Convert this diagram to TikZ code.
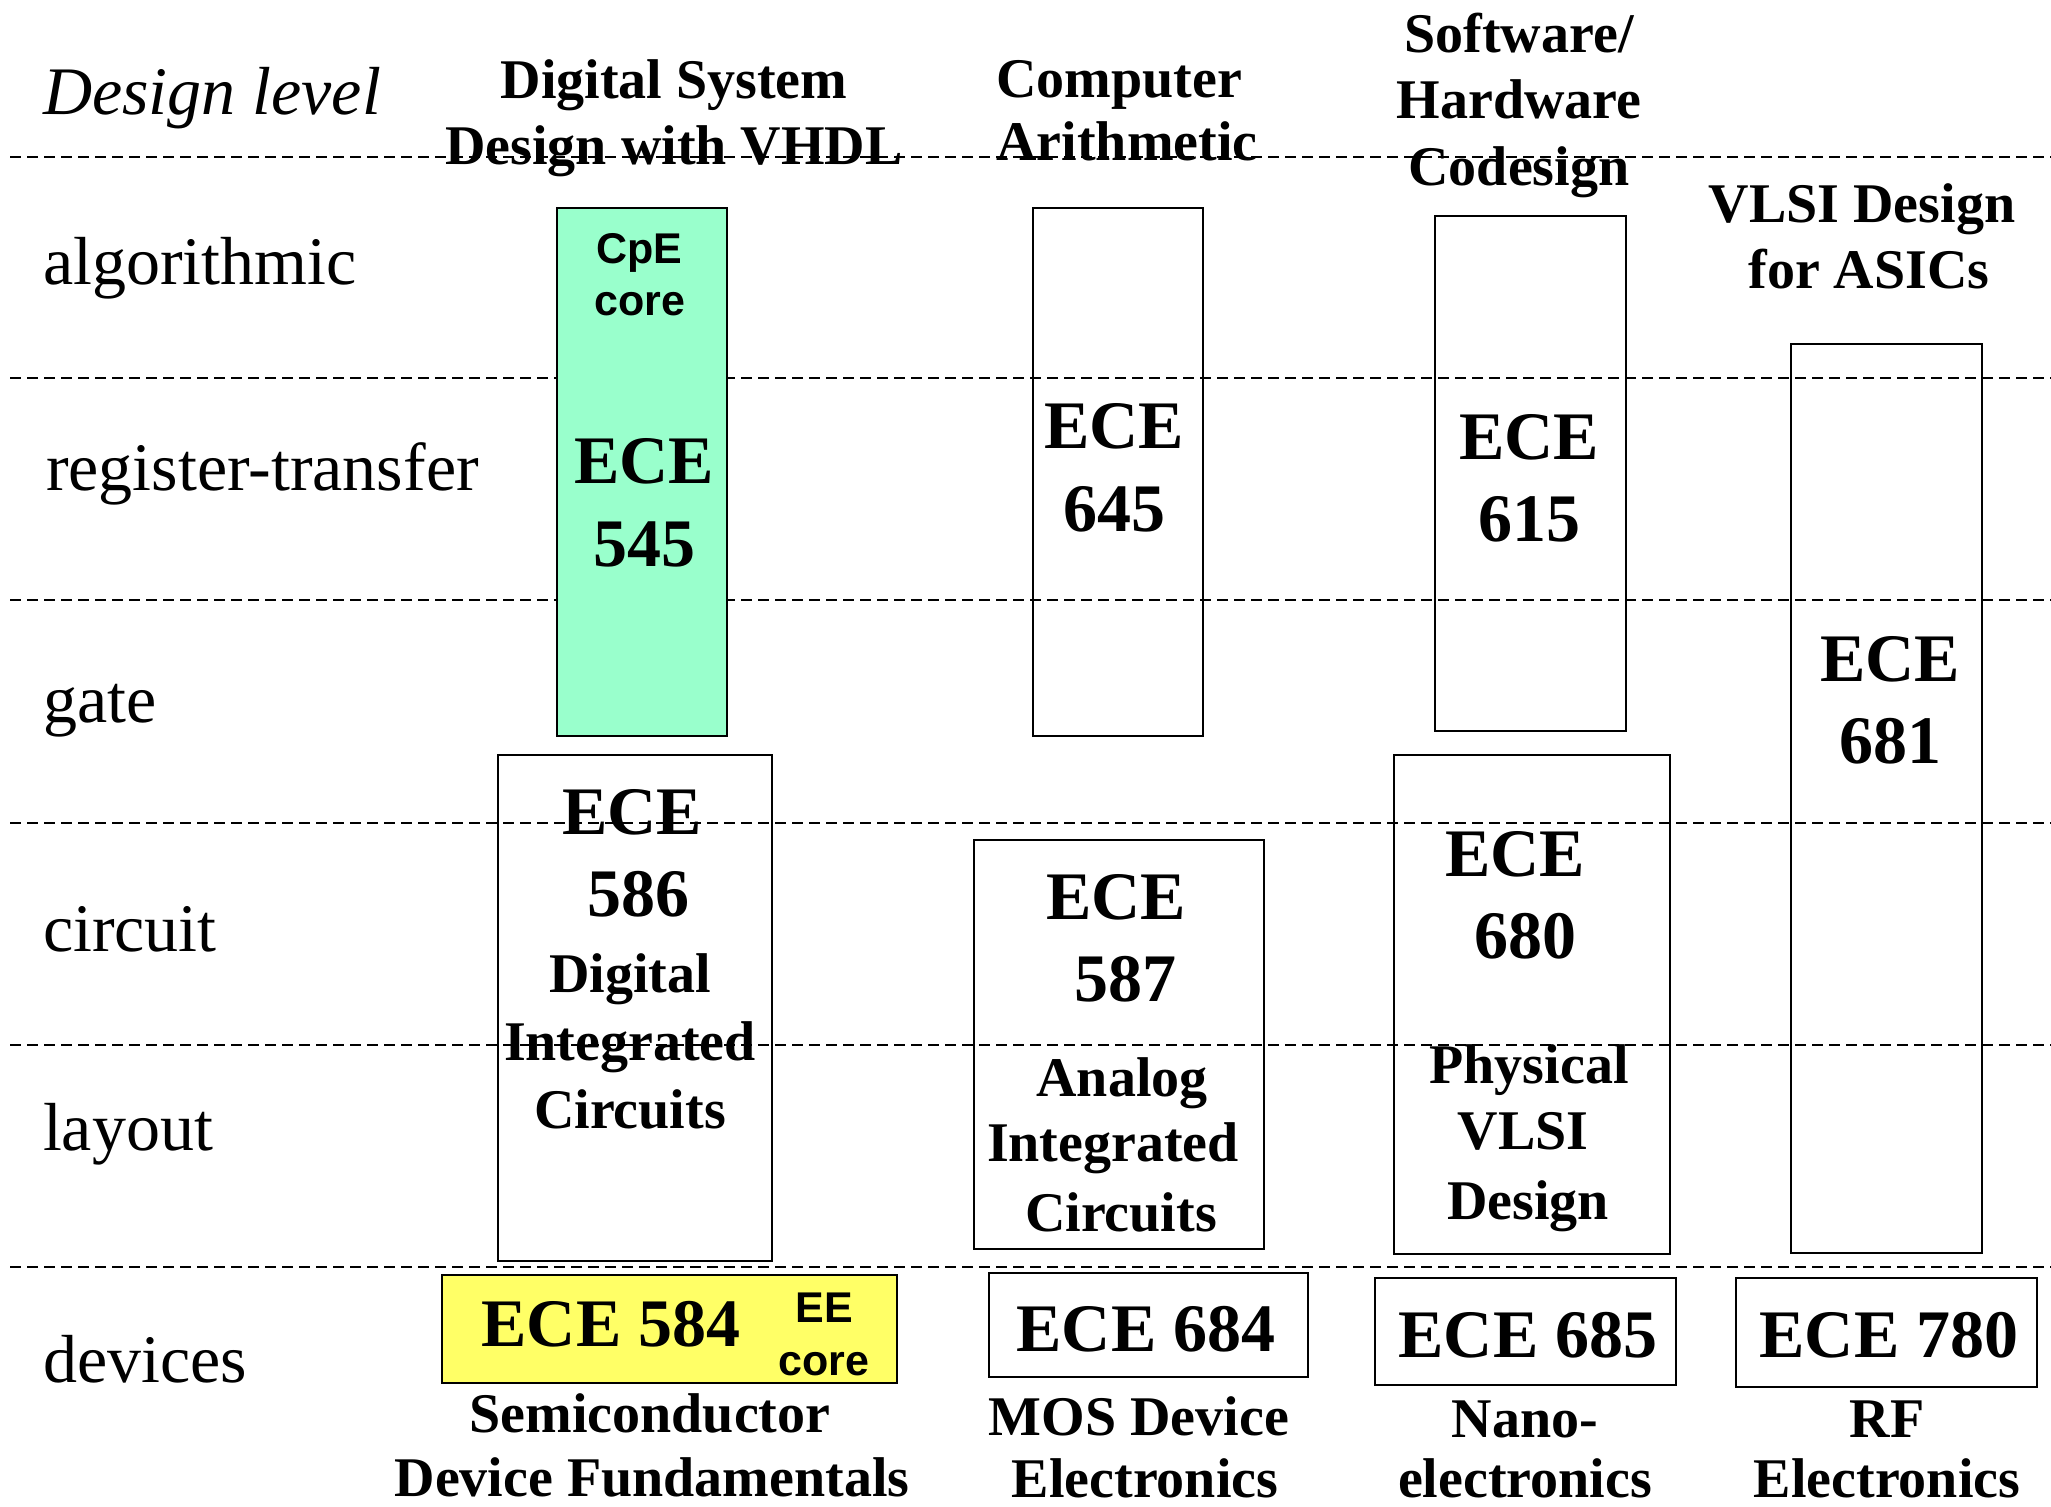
\documentclass[tikz,border=0pt]{standalone}
\usepackage{fontspec}
\setmainfont{Liberation Serif}
\newfontfamily\arialfont{Liberation Sans}
\definecolor{cpegreen}{HTML}{99FFCC}
\definecolor{eeyellow}{HTML}{FFFF66}
\begin{document}
\begin{tikzpicture}[x=1pt,y=-1pt,
  every node/.style={inner sep=0pt,outer sep=0pt},
  lvl/.style={anchor=base west,font=\fontsize{68}{80}\selectfont},
  head/.style={anchor=base,font=\fontsize{56}{66}\selectfont\bfseries},
  lastline/.style={head,text depth=0pt},
  big/.style={anchor=base,font=\fontsize{68}{80}\selectfont\bfseries},
  sanslbl/.style={anchor=base,font=\fontsize{43}{50}\selectfont\arialfont\bfseries},
  course/.style={draw,line width=2.5pt,anchor=north west},
  levelline/.style={line width=2.2pt,dash pattern=on 11pt off 6pt}]
\useasboundingbox (0,0) rectangle (2051,1507);

% level separators
\foreach \yy in {157,378,600,823,1045,1267}
  \draw[levelline] (10,\yy) -- (2051,\yy);

% course boxes
\node[course,fill=cpegreen,minimum width=170pt,minimum height=528pt] (c545) at (557,208) {};
\node[course,minimum width=170pt,minimum height=528pt] (c645) at (1033,208) {};
\node[course,minimum width=191pt,minimum height=515pt] (c615) at (1435,216) {};
\node[course,minimum width=191pt,minimum height=909pt] (c681) at (1791,344) {};
\node[course,minimum width=274pt,minimum height=506pt] (c586) at (498,755) {};
\node[course,minimum width=290pt,minimum height=409pt] (c587) at (974,840) {};
\node[course,minimum width=276pt,minimum height=499pt] (c680) at (1394,755) {};
\node[course,fill=eeyellow,minimum width=455pt,minimum height=108pt] (c584) at (442,1275) {};
\node[course,minimum width=319pt,minimum height=104pt] (c684) at (989,1273) {};
\node[course,minimum width=301pt,minimum height=107pt] (c685) at (1375,1278) {};
\node[course,minimum width=301pt,minimum height=109pt] (c780) at (1736,1278) {};

% design levels
\node[lvl,font=\fontsize{68}{80}\selectfont\itshape] (dlev) at (43,114) {Design level};
\node[lvl] (lalg) at (43,284) {algorithmic};
\node[lvl] (lrtl) at (46,490) {register-transfer};
\node[lvl] (lgate) at (43,722) {gate};
\node[lvl] (lcirc) at (43,951) {circuit};
\node[lvl] (llay) at (43,1150) {layout};
\node[lvl] (ldev) at (43,1382) {devices};

% column headings
\node[head] (h1a) at (674,98) {Digital System};
\node[head] (h1b) at (674,164) {Design with VHDL};
\node[head] (h2a) at (1119,97) {Computer};
\node[head] (h2b) at (1127,160) {Arithmetic};
\node[head] (h3a) at (1519,52) {Software/};
\node[head] (h3b) at (1519,118) {Hardware};
\node[head] (h3c) at (1519,185) {Codesign};
\node[head] (h4a) at (1862,222) {VLSI Design};
\node[head] (h4b) at (1869,288) {for ASICs};

% ECE 545
\node[sanslbl] (cpe1) at (639,263) {CpE};
\node[sanslbl] (cpe2) at (640,315) {core};
\node[big] (n545a) at (644,483) {ECE};
\node[big] (n545b) at (644,566) {545};
% ECE 645
\node[big] (n645a) at (1114,448) {ECE};
\node[big] (n645b) at (1114,531) {645};
% ECE 615
\node[big] (n615a) at (1529,459) {ECE};
\node[big] (n615b) at (1529,541) {615};
% ECE 681
\node[big] (n681a) at (1890,681) {ECE};
\node[big] (n681b) at (1890,763) {681};
% ECE 586
\node[big] (n586a) at (632,834) {ECE};
\node[big] (n586b) at (638,916) {586};
\node[head] (t586a) at (630,992) {Digital};
\node[head] (t586b) at (630,1060) {Integrated};
\node[head] (t586c) at (630,1128) {Circuits};
% ECE 587
\node[big] (n587a) at (1116,919) {ECE};
\node[big] (n587b) at (1125,1001) {587};
\node[head] (t587a) at (1122,1096) {Analog};
\node[head] (t587b) at (1113,1161) {Integrated};
\node[head] (t587c) at (1121,1231) {Circuits};
% ECE 680
\node[big] (n680a) at (1515,876) {ECE};
\node[big] (n680b) at (1525,958) {680};
\node[head] (t680a) at (1529,1083) {Physical};
\node[head] (t680b) at (1523,1149) {VLSI};
\node[head] (t680c) at (1528,1219) {Design};

% device-level courses
\node[big] (n584) at (611,1346) {ECE 584};
\node[sanslbl] (ee1) at (824,1322) {EE};
\node[sanslbl] (ee2) at (824,1375) {core};
\node[head] (t584a) at (650,1432) {Semiconductor};
\node[lastline] (t584b) at (652,1496) {Device Fundamentals};
\node[big] (n684) at (1146,1351) {ECE 684};
\node[head] (t684a) at (1139,1435) {MOS Device};
\node[lastline] (t684b) at (1145,1497) {Electronics};
\node[big] (n685) at (1528,1357) {ECE 685};
\node[head] (t685a) at (1525,1437) {Nano-};
\node[lastline] (t685b) at (1525,1497) {electronics};
\node[big] (n780) at (1889,1357) {ECE 780};
\node[head] (t780a) at (1887,1437) {RF};
\node[lastline] (t780b) at (1887,1497) {Electronics};
\end{tikzpicture}
\end{document}
